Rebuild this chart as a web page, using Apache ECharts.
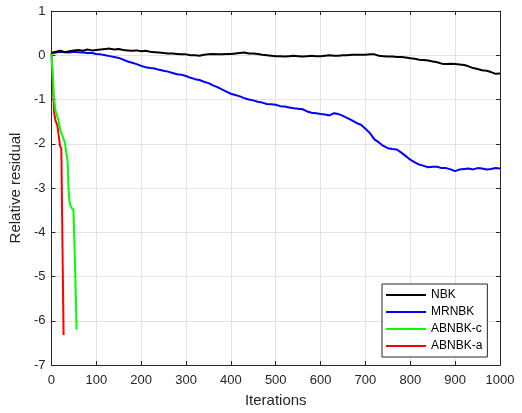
<!DOCTYPE html>
<html><head><meta charset="utf-8">
<script src="https://cdn.jsdelivr.net/npm/echarts@6/dist/echarts.min.js"></script>
<style>html,body{margin:0;padding:0;background:#fff}#c{width:522px;height:413px}</style>
</head><body><div id="c"></div>
<script>
var seriesNames = ['NBK', 'MRNBK', 'ABNBK-c', 'ABNBK-a'];
var seriesColors = ['#000000', '#0000ff', '#00ff00', '#ff0000'];
var xTicks = [0, 100, 200, 300, 400, 500, 600, 700, 800, 900, 1000];
var yTicks = [-7, -6, -5, -4, -3, -2, -1, 0, 1];

var nbkIter = [0,10,20,30,40,50,60,70,80,90,100,110,120,130,140,150,160,170,180,190,200,210,220,230,240,250,260,270,280,290,300,310,320,330,340,350,360,370,380,390,400,410,420,430,440,450,460,470,480,490,500,510,520,530,540,550,560,570,580,590,600,610,620,630,640,650,660,670,680,690,700,710,720,730,740,750,760,770,780,790,800,810,820,830,840,850,860,870,880,890,900,910,920,930,940,950,960,970,980,990,1000];
var nbkVal = [0.05,0.08,0.10,0.07,0.09,0.11,0.12,0.10,0.13,0.11,0.12,0.13,0.14,0.15,0.13,0.14,0.12,0.11,0.10,0.11,0.09,0.10,0.08,0.07,0.06,0.05,0.04,0.04,0.03,0.02,0.02,0.00,0.00,-0.01,0.01,0.02,0.03,0.02,0.02,0.03,0.03,0.04,0.05,0.06,0.04,0.04,0.03,0.01,0.00,-0.01,-0.02,-0.02,-0.03,-0.02,-0.01,-0.02,-0.03,-0.02,-0.01,-0.02,-0.02,-0.01,0.00,-0.01,-0.01,0.00,0.00,0.01,0.01,0.01,0.01,0.02,0.02,-0.01,-0.02,-0.03,-0.03,-0.04,-0.04,-0.05,-0.07,-0.08,-0.10,-0.11,-0.12,-0.14,-0.16,-0.19,-0.20,-0.19,-0.20,-0.21,-0.22,-0.25,-0.29,-0.31,-0.34,-0.35,-0.38,-0.42,-0.41];

var mrIter = nbkIter;
var mrVal = [0.05,0.06,0.08,0.07,0.06,0.08,0.07,0.06,0.05,0.05,0.03,0.02,0.00,-0.02,-0.04,-0.06,-0.10,-0.14,-0.17,-0.20,-0.24,-0.27,-0.29,-0.30,-0.33,-0.35,-0.37,-0.40,-0.43,-0.44,-0.47,-0.51,-0.54,-0.56,-0.60,-0.63,-0.68,-0.72,-0.77,-0.82,-0.87,-0.90,-0.93,-0.97,-1.00,-1.02,-1.05,-1.07,-1.10,-1.11,-1.12,-1.15,-1.16,-1.18,-1.20,-1.21,-1.22,-1.27,-1.30,-1.31,-1.33,-1.34,-1.36,-1.31,-1.33,-1.37,-1.42,-1.47,-1.53,-1.57,-1.66,-1.76,-1.90,-1.97,-2.05,-2.10,-2.12,-2.13,-2.20,-2.28,-2.36,-2.42,-2.47,-2.50,-2.53,-2.52,-2.52,-2.55,-2.55,-2.58,-2.62,-2.58,-2.57,-2.56,-2.58,-2.55,-2.56,-2.58,-2.57,-2.55,-2.56];

var abcIter = [0,3,6,9,12,15,17,20,23,27,30,34,36,38,40,43,47,49,52,56];
var abcVal = [0.05,-0.5,-1.0,-1.25,-1.35,-1.45,-1.55,-1.70,-1.78,-1.82,-1.98,-2.02,-2.40,-3.00,-3.30,-3.42,-3.44,-3.50,-4.50,-6.20];

var abaIter = [0,3,6,9,13,16,19,22,27];
var abaVal = [0.05,-0.6,-1.3,-1.48,-1.58,-1.80,-2.05,-2.10,-6.32];

function pairs(xs, ys){ return xs.map(function(x,i){ return [x, ys[i]]; }); }
var allData = [pairs(nbkIter,nbkVal), pairs(mrIter,mrVal), pairs(abcIter,abcVal), pairs(abaIter,abaVal)];

var axisColor = '#262626';
var font = 'Liberation Sans, Helvetica, Arial, sans-serif';
var chart = echarts.init(document.getElementById('c'), null, {renderer:'canvas'});
var xBase = {type:'value', min:xTicks[0], max:xTicks[xTicks.length-1], interval:100};
var yBase = {type:'value', min:yTicks[0], max:yTicks[yTicks.length-1], interval:1};
chart.setOption({
  animation:false,
  backgroundColor:'#fff',
  grid:{left:50, right:22, top:11, bottom:47, containLabel:false},
  legend:{
    orient:'vertical', left:382, top:284,
    data:seriesNames, icon:'rect', itemWidth:40, itemHeight:2, itemGap:3,
    padding:[4,5,4,4],
    backgroundColor:'#fff', borderColor:axisColor, borderWidth:1, borderRadius:0,
    textStyle:{fontFamily:font, fontSize:12, color:'#000', lineHeight:14, height:14}
  },
  xAxis:[
    Object.assign({}, xBase, {
      position:'bottom', name:'Iterations', nameLocation:'middle', nameGap:28,
      nameTextStyle:{fontFamily:font, fontSize:15, color:axisColor},
      axisLine:{show:true, onZero:false, lineStyle:{color:axisColor, width:1}},
      axisTick:{show:true, inside:true, length:4, lineStyle:{color:axisColor}},
      axisLabel:{fontFamily:font, fontSize:13, color:axisColor, margin:9, formatter:function(v){return String(v);}},
      splitLine:{show:true, lineStyle:{color:'#e3e3e3', width:1}}
    }),
    Object.assign({}, xBase, {
      position:'top',
      axisLine:{show:true, onZero:false, lineStyle:{color:axisColor, width:1}},
      axisTick:{show:true, inside:true, length:4, lineStyle:{color:axisColor}},
      axisLabel:{show:false}, splitLine:{show:false}
    })
  ],
  yAxis:[
    Object.assign({}, yBase, {
      position:'left', name:'Relative residual', nameLocation:'middle', nameGap:23,
      nameTextStyle:{fontFamily:font, fontSize:15, color:axisColor},
      axisLine:{show:true, onZero:false, lineStyle:{color:axisColor, width:1}},
      axisTick:{show:true, inside:true, length:4, lineStyle:{color:axisColor}},
      axisLabel:{fontFamily:font, fontSize:13, color:axisColor, margin:6},
      splitLine:{show:true, lineStyle:{color:'#e3e3e3', width:1}}
    }),
    Object.assign({}, yBase, {
      position:'right',
      axisLine:{show:true, onZero:false, lineStyle:{color:axisColor, width:1}},
      axisTick:{show:true, inside:true, length:4, lineStyle:{color:axisColor}},
      axisLabel:{show:false}, splitLine:{show:false}
    })
  ],
  series: seriesNames.map(function(n,i){
    return {name:n, type:'line', data:allData[i], xAxisIndex:0, yAxisIndex:0,
      showSymbol:false, symbol:'none', smooth:false,
      color:seriesColors[i], lineStyle:{color:seriesColors[i], width:2}, z:10-i};
  })
});
</script></body></html>
